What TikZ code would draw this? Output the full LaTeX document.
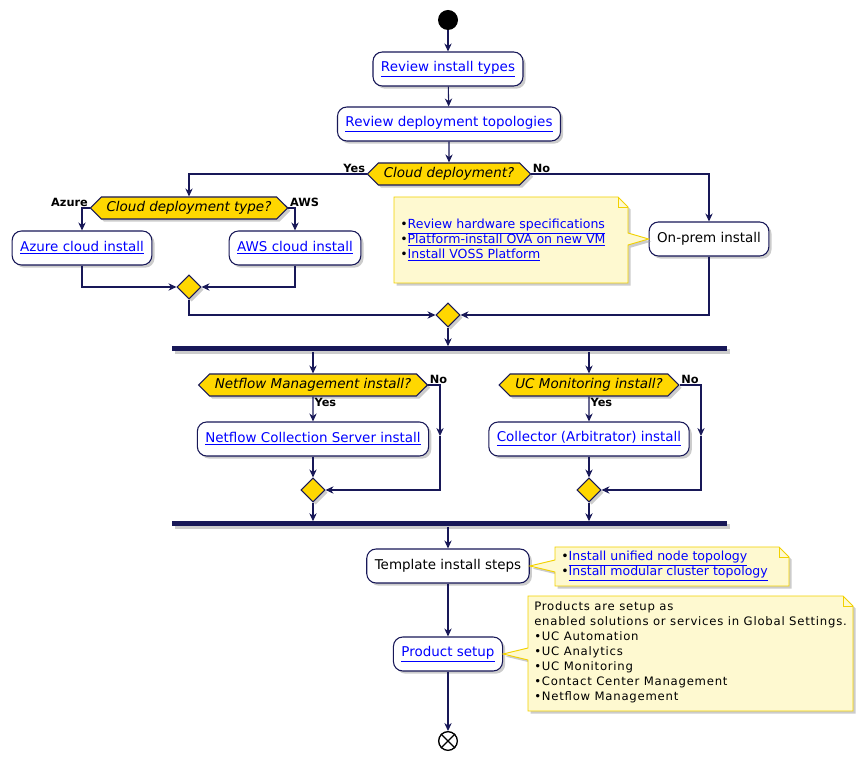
\documentclass[tikz,border=0pt]{standalone}
\usepackage{fontspec}
\setmainfont{DejaVu Sans}
\usetikzlibrary{arrows.meta,positioning,shapes.geometric,shapes.symbols,shadows}
\definecolor{umlline}{HTML}{181858}
\definecolor{umlgold}{HTML}{FFD700}
\definecolor{notefill}{HTML}{FEF9D0}
\definecolor{notedraw}{HTML}{F2D100}
\definecolor{linkblue}{HTML}{0000FF}
\newcommand{\lnk}[1]{\textcolor{linkblue}{\underline{#1}}}
\tikzset{>={Stealth[length=6pt,width=5.5pt]}}
\tikzset{
  shade/.style={drop shadow={shadow xshift=2pt,shadow yshift=-2pt,fill=black!40,opacity=.5}},
  act/.style={draw=umlline,line width=0.8pt,fill=white,rounded corners=7pt,minimum height=25.5pt,inner xsep=6pt,font=\fontsize{10.1}{12}\selectfont,shade},
  cond/.style={signal,signal to=east and west,draw=umlline,line width=0.8pt,fill=umlgold,minimum height=16.5pt,inner xsep=4pt,inner ysep=1pt,font=\fontsize{10.1}{12}\selectfont\itshape,shade},
  merge/.style={diamond,draw=umlline,line width=0.8pt,fill=umlgold,minimum size=18pt,inner sep=0pt,shade},
  bar/.style={rectangle,fill=umlline,minimum width=416pt,minimum height=3.75pt,inner sep=0pt,shade},
  lbl/.style={font=\fontsize{8.5}{10}\selectfont\bfseries,inner sep=1pt},
  note/.style={draw=notedraw,line width=0.7pt,fill=notefill,shade},
  notetxt/.style={align=left,inner sep=0pt,font=\fontsize{9.4}{11.25}\selectfont},
  flow/.style={draw=umlline,line width=0.8pt}
}
\begin{document}
\begin{tikzpicture}[x=0.75pt,y=-0.75pt]
  \useasboundingbox (0,0) rectangle (864,762);
  % top part
  \node[circle,fill=black,minimum size=15pt,inner sep=0pt] (start) at (448,20) {};
  \node[act] (types) at (448,69) {\lnk{Review install types}};
  \node[act] (topo) at (449,124) {\lnk{Review deployment topologies}};
  \node[cond] (cloud) at (449,174) {Cloud deployment?};
  \node[lbl,anchor=south east] at (cloud.west) {Yes};
  \node[lbl,anchor=south west] at (cloud.east) {No};
  % cloud branch
  \node[cond] (ctype) at (189,208) {Cloud deployment type?};
  \node[lbl,anchor=south east] at (ctype.west) {Azure};
  \node[lbl,anchor=south west] at (ctype.east) {AWS};
  \node[act] (azure) at (82,248) {\lnk{Azure cloud install}};
  \node[act] (aws) at (295,248) {\lnk{AWS cloud install}};
  \node[merge] (m1) at (189,287) {};
  % on-prem branch
  \node[act] (onprem) at (709,239) {On-prem install};
  \node[merge] (m2) at (448,315) {};
  \path[note] (394,197) -- (618,197) -- (628,207) -- (628,233) -- (onprem.west) -- (628,245) -- (628,283) -- (394,283) -- cycle;
  \draw[notedraw,line width=0.7pt] (618,197) -- (618,207) -- (628,207);
  \node[notetxt,anchor=west] at (400,240) {%
    •\lnk{Review hardware specifications}\\
    •\lnk{Platform-install OVA on new VM}\\
    •\lnk{Install VOSS Platform}};
  % parallel part
  \node[bar] (fork) at (449.5,349) {};
  \node[cond] (nfq) at (313,385) {Netflow Management install?};
  \node[lbl,anchor=south west] at (nfq.east) {No};
  \node[lbl,anchor=north west] at (nfq.south) {Yes};
  \node[act] (nfbox) at (313,439) {\lnk{Netflow Collection Server install}};
  \node[merge] (m3) at (313,490) {};
  \coordinate (nfno) at (440,436);
  \node[cond] (ucq) at (589,385) {UC Monitoring install?};
  \node[lbl,anchor=south west] at (ucq.east) {No};
  \node[lbl,anchor=north west] at (ucq.south) {Yes};
  \node[act] (ucbox) at (589,439) {\lnk{Collector (Arbitrator) install}};
  \node[merge] (m4) at (589,490) {};
  \coordinate (ucno) at (701,436);
  \node[bar] (join) at (449.5,524) {};
  % bottom part
  \node[act] (tmpl) at (448,566) {Template install steps};
  \node[act] (prod) at (448,654) {\lnk{Product setup}};
  \node[circle,draw=black,line width=1pt,fill=white,minimum size=14pt,inner sep=0pt] (stop) at (448,741) {};
  \draw[black,line width=1pt] (stop.north west) -- (stop.south east) (stop.north east) -- (stop.south west);
  \path[note] (555,547) -- (779,547) -- (789,557) -- (789,586) -- (555,586) -- (555,572) -- (tmpl.east) -- (555,560) -- cycle;
  \draw[notedraw,line width=0.7pt] (779,547) -- (779,557) -- (789,557);
  \node[notetxt,anchor=west] at (561,566) {%
    •\lnk{Install unified node topology}\\
    •\lnk{Install modular cluster topology}};
  \path[note] (528,596) -- (843,596) -- (853,606) -- (853,711) -- (528,711) -- (528,660) -- (prod.east) -- (528,648) -- cycle;
  \draw[notedraw,line width=0.7pt] (843,596) -- (843,606) -- (853,606);
  \node[notetxt,anchor=north west,font=\fontsize{8.75}{11.25}\selectfont\addfontfeature{LetterSpace=6.5}] at (534,601) {%
    Products are setup as\\
    enabled solutions or services in Global Settings.\\
    •UC Automation\\
    •UC Analytics\\
    •UC Monitoring\\
    •Contact Center Management\\
    •Netflow Management};
  % connectors
  \draw[flow,->] (start) -- (types);
  \draw[flow,->] (types) -- (topo);
  \draw[flow,->] (topo) -- (cloud);
  \draw[flow,->] (cloud.west) -| (ctype.north);
  \draw[flow,->] (cloud.east) -| (onprem.north);
  \draw[flow,->] (ctype.west) -| (azure.north);
  \draw[flow,->] (ctype.east) -| (aws.north);
  \draw[flow,->] (azure.south) |- (m1.west);
  \draw[flow,->] (aws.south) |- (m1.east);
  \draw[flow,->] (m1.south) |- (m2.west);
  \draw[flow,->] (onprem.south) |- (m2.east);
  \draw[flow,->] (m2.south) -- (m2.south |- fork.north);
  \draw[flow,->] (fork.south -| nfq.north) -- (nfq.north);
  \draw[flow,->] (fork.south -| ucq.north) -- (ucq.north);
  \draw[flow,->] (nfq) -- (nfbox);
  \draw[flow,->] (nfbox) -- (m3);
  \draw[flow,->] (nfq.east) -| (nfno);
  \draw[flow,->] (nfno) |- (m3.east);
  \draw[flow,->] (ucq) -- (ucbox);
  \draw[flow,->] (ucbox) -- (m4);
  \draw[flow,->] (ucq.east) -| (ucno);
  \draw[flow,->] (ucno) |- (m4.east);
  \draw[flow,->] (m3.south) -- (m3.south |- join.north);
  \draw[flow,->] (m4.south) -- (m4.south |- join.north);
  \draw[flow,->] (join.south -| tmpl.north) -- (tmpl.north);
  \draw[flow,->] (tmpl) -- (prod);
  \draw[flow,->] (prod) -- (stop);
\end{tikzpicture}
\end{document}
